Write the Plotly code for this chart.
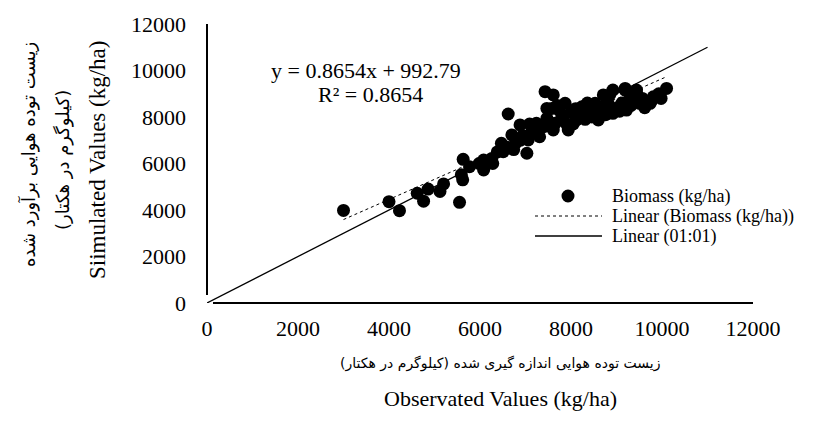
import plotly.graph_objects as go

# Observed vs simulated biomass (kg/ha)
observed = [3000, 4000, 4230, 4620, 4760, 4860, 5120, 5200, 5550, 5620,
            5630, 5590, 5770, 6080, 6080, 6260, 6470, 6510, 6620, 6700,
            6880, 7030, 7060, 6590, 6790, 6940, 7240, 7310, 7470, 7580,
            7610, 7430, 7610, 7470, 7400, 7650, 7140, 7870, 7940, 8120,
            8240, 8530, 8600, 8850, 8920, 9190, 9220, 9440, 9510, 9780,
            10100, 8710, 8920, 9190, 9440, 9810, 9740,
            7800, 8000, 8050, 8200, 8310, 8410, 8460, 8610, 8710, 8760,
            8810, 9020, 9070, 9120, 9320, 9370, 9570, 9620, 8100, 7740,
            7500, 7290, 6890, 6740, 6380, 6280, 5980, 7090, 7700, 7900,
            8360, 8860, 9270, 9930, 9980]
simulated = [3980, 4360, 3970, 4720, 4380, 4900, 4800, 5120, 4330, 5300,
             6180, 5520, 5860, 6150, 5720, 6220, 6870, 6510, 8130, 7230,
             7660, 6440, 7010, 6700, 6900, 7200, 7730, 7150, 7940, 8370,
             7440, 9090, 8950, 8370, 7580, 7730, 7400, 8590, 7440, 7870,
             8440, 8590, 7870, 8950, 8160, 9160, 8300, 9020, 8590, 8730,
             9230, 8950, 9160, 9230, 9160, 8870, 8590,
             8000, 8200, 7700, 8100, 7900, 8300, 8000, 8200, 8400, 8100,
             8600, 8400, 8250, 8600, 8500, 8800, 8800, 8400, 8350, 8300,
             7800, 7500, 7000, 6600, 6500, 6000, 6000, 7700, 8500, 7700,
             8600, 8300, 8700, 9000, 8800]

# Trend line coefficients (as printed on the chart)
slope = 0.8654
intercept = 992.79
r_squared = 0.8654

# 1:1 line extent
one_to_one = [0, 11000]

x_ticks = [0, 2000, 4000, 6000, 8000, 10000, 12000]
y_ticks = [0, 2000, 4000, 6000, 8000, 10000, 12000]

legend_labels = ["Biomass (kg/ha)", "Linear (Biomass (kg/ha))", "Linear (01:01)"]

SERIF = "Liberation Serif"
PERSIAN = "DejaVu Sans"

W, H = 825, 421
PL, PR, PT, PB = 207, 753, 24, 303  # plot area in pixels


def xp(px):
    return (px - PL) / (PR - PL)


def yp(py):
    return (PB - py) / (PB - PT)


trend_x = [min(observed), max(observed)]
trend_y = [slope * v + intercept for v in trend_x]

fig = go.Figure()
fig.add_trace(go.Scatter(
    x=observed, y=simulated, mode="markers", name=legend_labels[0],
    marker=dict(color="black", size=13, line=dict(width=0)),
))
fig.add_trace(go.Scatter(
    x=trend_x, y=trend_y, mode="lines", name=legend_labels[1],
    line=dict(color="black", width=1, dash="3px,3px"),
))
fig.add_trace(go.Scatter(
    x=one_to_one, y=one_to_one, mode="lines", name=legend_labels[2],
    line=dict(color="black", width=1.3),
))

fig.update_xaxes(
    range=[0, 12000], tickvals=x_ticks, ticktext=[str(v) for v in x_ticks],
    showgrid=False, zeroline=False, showline=False,
    ticks="", ticklabelstandoff=10,
    tickfont=dict(family=SERIF, size=22, color="black"),
)
fig.update_yaxes(
    range=[0, 12000], tickvals=y_ticks, ticktext=[str(v) for v in y_ticks],
    showgrid=False, zeroline=False, showline=False,
    ticks="", ticklabelstandoff=20,
    tickfont=dict(family=SERIF, size=22, color="black"),
)


def ann(text, px, py, size, family=SERIF, angle=0, xanchor="center"):
    return dict(text=text, x=xp(px), y=yp(py), xref="paper", yref="paper",
                xanchor=xanchor, yanchor="middle", textangle=angle, showarrow=False,
                font=dict(family=family, size=size, color="black"))


annotations = [
    ann(f"y = {slope}x + {intercept}", 366, 70, 22),
    ann(f"R² = {r_squared}", 370, 95, 22),
    ann("زیست توده هوایی اندازه گیری شده (کیلوگرم در هکتار)", 500, 363, 14, PERSIAN),
    ann("Observated Values (kg/ha)", 500, 398, 22),
    ann("Siimulated Values (kg/ha)", 97, 160, 23, SERIF, -90),
    ann("(کیلوگرم در هکتار)", 63, 160, 18, PERSIAN, -90),
    ann("زیست توده هوایی برآورد شده", 28, 155, 18, PERSIAN, -90),
    ann(legend_labels[0], 610, 196, 18, xanchor="left"),
    ann(legend_labels[1], 610, 216, 18, xanchor="left"),
    ann(legend_labels[2], 610, 236, 18, xanchor="left"),
]

shapes = [
    # axis lines (Excel-style, slightly detached at the origin)
    dict(type="line", xref="paper", yref="paper", x0=0, x1=0,
         y0=yp(295), y1=1, line=dict(color="black", width=2)),
    dict(type="line", xref="paper", yref="paper", x0=xp(213), x1=1,
         y0=0, y1=0, line=dict(color="black", width=2)),
    # legend symbols
    dict(type="circle", xref="paper", yref="paper", xsizemode="pixel", ysizemode="pixel",
         xanchor=xp(568), yanchor=yp(196), x0=-6.5, x1=6.5, y0=-6.5, y1=6.5,
         fillcolor="black", line=dict(width=0)),
    dict(type="line", xref="paper", yref="paper", x0=xp(535), x1=xp(602),
         y0=yp(216), y1=yp(216), line=dict(color="black", width=1, dash="3px,3px")),
    dict(type="line", xref="paper", yref="paper", x0=xp(535), x1=xp(602),
         y0=yp(236), y1=yp(236), line=dict(color="black", width=1.3)),
]

fig.update_layout(
    width=W, height=H,
    margin=dict(l=PL, r=W - PR, t=PT, b=H - PB),
    paper_bgcolor="white", plot_bgcolor="white",
    showlegend=False,
    annotations=annotations,
    shapes=shapes,
)

fig.write_html("out.html", config={"displayModeBar": False},
               post_script="document.body.style.margin='0';")
